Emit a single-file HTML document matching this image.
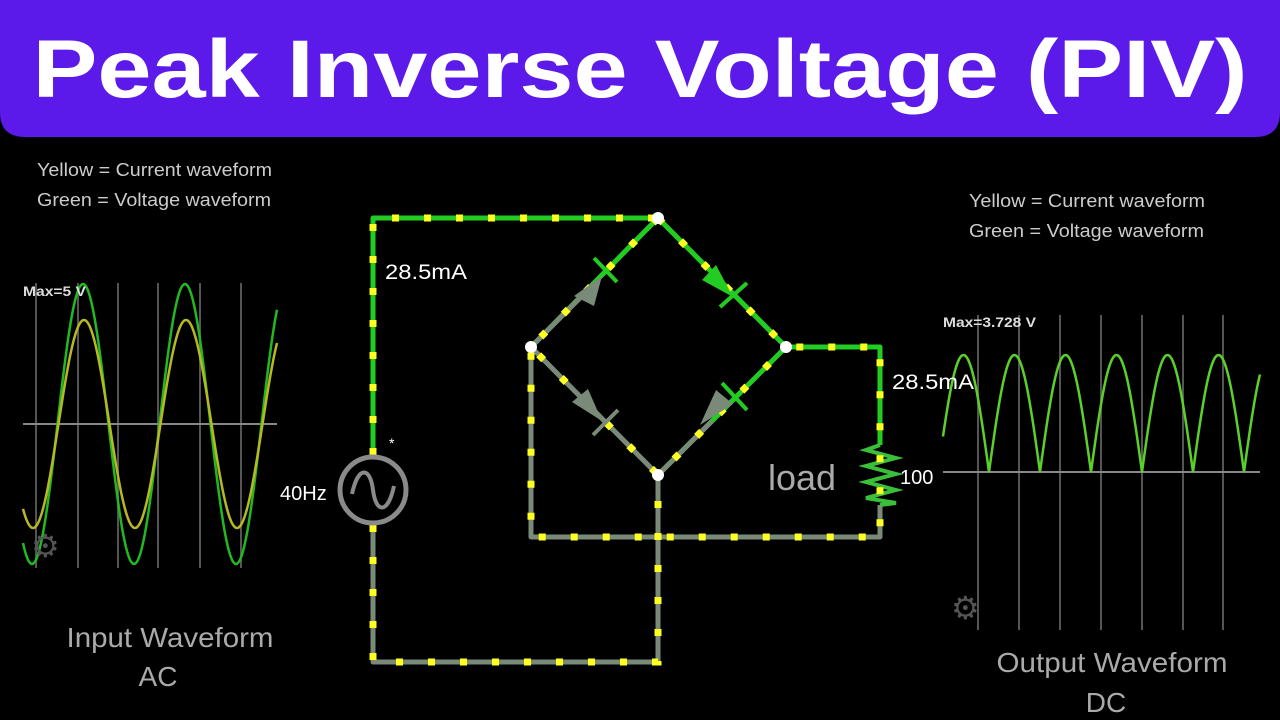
<!DOCTYPE html>
<html><head><meta charset="utf-8"><style>
html,body{margin:0;padding:0;background:#000;width:1280px;height:720px;overflow:hidden}
svg{display:block}
text{font-family:"Liberation Sans",Arial,sans-serif}
</style></head><body>
<svg id="s" width="1280" height="720" viewBox="0 0 1280 720" xmlns="http://www.w3.org/2000/svg">
<rect width="1280" height="720" fill="#000"/>
<path d="M0 0H1280V112Q1280 137 1255 137H25Q0 137 0 112Z" fill="#5b1aea"/>
<text x="640" y="97" text-anchor="middle" fill="#fff" font-size="82" font-weight="bold" textLength="1215" lengthAdjust="spacingAndGlyphs">Peak Inverse Voltage (PIV)</text>

<text x="37" y="176" fill="#ccc" font-size="18" textLength="235" lengthAdjust="spacingAndGlyphs">Yellow = Current waveform</text>
<text x="37" y="206" fill="#ccc" font-size="18" textLength="234" lengthAdjust="spacingAndGlyphs">Green = Voltage waveform</text>
<text x="969" y="207" fill="#ccc" font-size="18" textLength="236" lengthAdjust="spacingAndGlyphs">Yellow = Current waveform</text>
<text x="969" y="237" fill="#ccc" font-size="18" textLength="235" lengthAdjust="spacingAndGlyphs">Green = Voltage waveform</text>

<g stroke="#555" stroke-width="2">
<line x1="36" y1="283" x2="36" y2="568"/><line x1="78" y1="283" x2="78" y2="568"/><line x1="118" y1="283" x2="118" y2="568"/><line x1="158" y1="283" x2="158" y2="568"/><line x1="200" y1="283" x2="200" y2="568"/><line x1="241" y1="283" x2="241" y2="568"/>
<line x1="23" y1="424" x2="277" y2="424" stroke="#888"/>
</g>
<g stroke="#555" stroke-width="2">
<line x1="978" y1="315" x2="978" y2="630"/><line x1="1019" y1="315" x2="1019" y2="630"/><line x1="1060" y1="315" x2="1060" y2="630"/><line x1="1101" y1="315" x2="1101" y2="630"/><line x1="1142" y1="315" x2="1142" y2="630"/><line x1="1183" y1="315" x2="1183" y2="630"/><line x1="1223" y1="315" x2="1223" y2="630"/>
<line x1="943" y1="472" x2="1260" y2="472" stroke="#888"/>
</g>
<path id="lg" fill="none" stroke="#22b822" stroke-width="2.5"/>
<path id="ly" fill="none" stroke="#b8b822" stroke-width="2.5"/>
<path id="rg" fill="none" stroke="#5cd02a" stroke-width="2.5"/>
<text x="23" y="296" fill="#ddd" font-size="14" font-weight="bold" textLength="63" lengthAdjust="spacingAndGlyphs">Max=5 V</text>
<text x="943" y="327" fill="#ddd" font-size="14" font-weight="bold" textLength="93" lengthAdjust="spacingAndGlyphs">Max=3.728 V</text>
<text x="31" y="557" fill="#555" font-size="32">⚙</text>
<text x="951" y="619" fill="#555" font-size="32">⚙</text>

<text x="170" y="647" text-anchor="middle" fill="#aaa" font-size="28" textLength="207" lengthAdjust="spacingAndGlyphs">Input Waveform</text>
<text x="158" y="686" text-anchor="middle" fill="#aaa" font-size="28">AC</text>
<text x="1112" y="672" text-anchor="middle" fill="#aaa" font-size="28" textLength="231" lengthAdjust="spacingAndGlyphs">Output Waveform</text>
<text x="1106" y="712" text-anchor="middle" fill="#aaa" font-size="28">DC</text>

<g fill="none" stroke-width="5" stroke-linejoin="round">
<path d="M373 455V218H658L786 347H880V445" stroke="#22cc22"/>
<path d="M658 218L531 347" stroke="#22cc22"/>
<path d="M786 347L658 475" stroke="#22cc22"/>
<path d="M531 347L590 288" stroke="#7a8a78"/>
<path d="M531 347L658 475M658 475L712 421" stroke="#7a8a78"/>
<path d="M880 505V537H531V347M658 475V662H373V525" stroke="#7a8a78"/>
</g>
<path d="M880 445L866 450L896 458L866 466L896 474L866 482L896 490L866 498L896 503L880 505" fill="none" stroke="#3bbf3b" stroke-width="4"/>
<g fill="none" stroke="#ffff22" stroke-width="7" stroke-dasharray="7 25">
<path d="M373 455V218H658"/>
<path d="M658 218L786 347H880V505V537H531V347"/>
<path d="M658 218L531 347L658 475L786 347"/>
<path d="M373 525V662H658V475"/>
</g>
<polygon points="574,296 602,276 594,306" fill="#7a8a78"/>
<line x1="594" y1="258" x2="617" y2="282" stroke="#22cc22" stroke-width="4"/>
<polygon points="702,280 733,297 716,265" fill="#22cc22"/>
<line x1="720" y1="307" x2="747" y2="283" stroke="#22cc22" stroke-width="4"/>
<polygon points="572,402 602,421 588,389" fill="#7a8a78"/>
<line x1="593" y1="435" x2="618" y2="410" stroke="#7a8a78" stroke-width="4"/>
<polygon points="700,425 733,404 716,390" fill="#7a8a78"/>
<line x1="722" y1="383" x2="747" y2="410" stroke="#22cc22" stroke-width="4"/>
<g fill="#fff"><circle cx="658" cy="218" r="6"/><circle cx="531" cy="347" r="6"/><circle cx="786" cy="347" r="6"/><circle cx="658" cy="475" r="6"/></g>
<circle cx="373" cy="490" r="33" fill="#000" stroke="#8a8a8a" stroke-width="5"/>
<path d="M352 494C358 466 370 466 373 490S388 514 394 486" fill="none" stroke="#8a8a8a" stroke-width="4"/>
<text x="389" y="448" fill="#fff" font-size="14">*</text>
<text x="280" y="500" fill="#fff" font-size="20">40Hz</text>
<text x="385" y="279" fill="#fff" font-size="21" textLength="82" lengthAdjust="spacingAndGlyphs">28.5mA</text>
<text x="892" y="389" fill="#fff" font-size="21" textLength="82" lengthAdjust="spacingAndGlyphs">28.5mA</text>
<text x="900" y="484" fill="#fff" font-size="20">100</text>
<text x="768" y="490" fill="#aaa" font-size="36">load</text>
</svg>
<script>
function wave(f,x0,x1){let d="";for(let x=x0;x<=x1;x+=1){d+=(x==x0?"M":"L")+x+" "+f(x).toFixed(1)+" ";}return d;}
var P=102;
document.getElementById('lg').setAttribute('d',wave(x=>424-140*Math.sin(2*Math.PI*(x-57.5)/P),23,277));
document.getElementById('ly').setAttribute('d',wave(x=>424-104*Math.sin(2*Math.PI*(x-58.5)/P),23,277));
document.getElementById('rg').setAttribute('d',wave(x=>472-117*Math.abs(Math.sin(Math.PI*(x-938)/51)),943,1260));
</script>
</body></html>
